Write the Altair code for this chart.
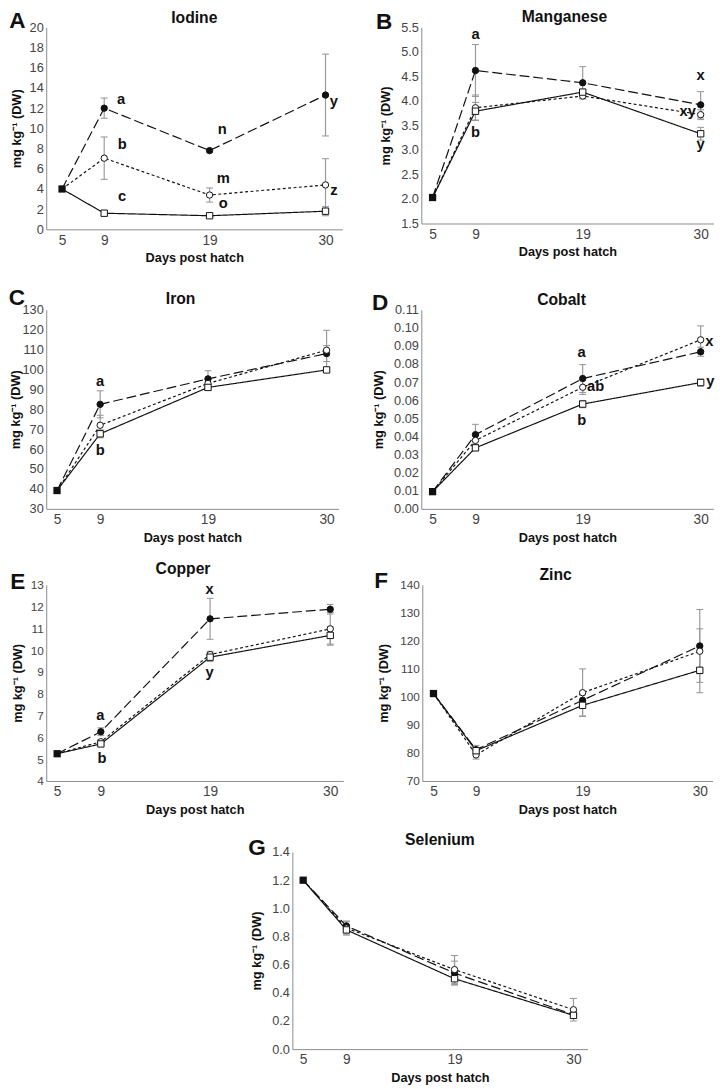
import altair as alt
import pandas as pd

SERIES = ["Diet 1", "Diet 2", "Diet 3"]
DAYS = [9, 19, 30]
X_TICKS = [5, 9, 19, 30]
Y_TITLE = "mg kg⁻¹ (DW)"
X_TITLE = "Days post hatch"

# ---- A: Iodine
IODINE_START = 4.0
IODINE_S1 = [12.0, 7.8, 13.3]
IODINE_S1_ERR = [1.0, 0.15, 4.05]
IODINE_S2 = [7.05, 3.4, 4.4]
IODINE_S2_ERR = [2.1, 0.7, 2.6]
IODINE_S3 = [1.6, 1.35, 1.8]
IODINE_S3_ERR = [0.2, 0.15, 0.45]
IODINE_TICKS = [0, 2, 4, 6, 8, 10, 12, 14, 16, 18, 20]
IODINE_LBL = ["a", "b", "c", "n", "m", "o", "y", "z"]
IODINE_LBL_DAY = [10.6, 10.7, 10.7, 20.2, 20.3, 20.3, 30.8, 30.8]
IODINE_LBL_VAL = [12.9, 8.4, 3.3, 9.9, 5.05, 2.6, 12.7, 3.9]

# ---- B: Manganese
MN_START = 2.03
MN_S1 = [4.62, 4.37, 3.92]
MN_S1_ERR = [0.53, 0.33, 0.27]
MN_S2 = [3.86, 4.10, 3.72]
MN_S2_ERR = [0.26, 0.05, 0.10]
MN_S3 = [3.79, 4.18, 3.33]
MN_S3_ERR = [0.18, 0.05, 0.13]
MN_TICKS = [1.5, 2.0, 2.5, 3.0, 3.5, 4.0, 4.5, 5.0, 5.5]
MN_LBL = ["a", "b", "x", "xy", "y"]
MN_LBL_DAY = [9.0, 9.0, 30.0, 28.8, 30.0]
MN_LBL_VAL = [5.37, 3.37, 4.53, 3.79, 3.11]

# ---- C: Iron
FE_START = 39.2
FE_S1 = [82.5, 95.3, 108.0]
FE_S1_ERR = [6.8, 4.1, 4.0]
FE_S2 = [72.0, 93.0, 109.7]
FE_S2_ERR = [5.0, 2.0, 10.0]
FE_S3 = [67.7, 91.0, 99.8]
FE_S3_ERR = [2.0, 1.5, 1.0]
FE_TICKS = [30, 40, 50, 60, 70, 80, 90, 100, 110, 120, 130]
FE_LBL = ["a", "b"]
FE_LBL_DAY = [9.0, 9.0]
FE_LBL_VAL = [94.4, 59.4]

# ---- D: Cobalt
CO_START = 0.0095
CO_S1 = [0.041, 0.072, 0.0868]
CO_S1_ERR = [0.0057, 0.0077, 0.0025]
CO_S2 = [0.0378, 0.0672, 0.0934]
CO_S2_ERR = [0.003, 0.004, 0.0077]
CO_S3 = [0.0337, 0.0579, 0.0698]
CO_S3_ERR = [0.0015, 0.002, 0.002]
CO_TICKS = [0.00, 0.01, 0.02, 0.03, 0.04, 0.05, 0.06, 0.07, 0.08, 0.09, 0.10, 0.11]
CO_LBL = ["a", "ab", "b", "x", "y"]
CO_LBL_DAY = [18.9, 20.2, 18.9, 30.8, 30.9]
CO_LBL_VAL = [0.0865, 0.0677, 0.049, 0.0927, 0.0706]

# ---- E: Copper
CU_START = 5.25
CU_S1 = [6.26, 11.44, 11.88]
CU_S1_ERR = [0.18, 0.94, 0.22]
CU_S2 = [5.8, 9.8, 10.98]
CU_S2_ERR = [0.1, 0.15, 0.75]
CU_S3 = [5.7, 9.68, 10.68]
CU_S3_ERR = [0.1, 0.2, 0.4]
CU_TICKS = [4, 5, 6, 7, 8, 9, 10, 11, 12, 13]
CU_LBL = ["x", "y", "a", "b"]
CU_LBL_DAY = [18.95, 18.95, 8.95, 9.1]
CU_LBL_VAL = [12.81, 8.99, 7.04, 5.05]

# ---- F: Zinc
ZN_START = 101.2
ZN_S1 = [81.2, 98.8, 118.2]
ZN_S1_ERR = [1.5, 2.0, 13.0]
ZN_S2 = [79.3, 101.5, 116.3]
ZN_S2_ERR = [1.5, 8.5, 8.0]
ZN_S3 = [80.8, 97.0, 109.5]
ZN_S3_ERR = [1.0, 3.8, 8.0]
ZN_TICKS = [70, 80, 90, 100, 110, 120, 130, 140]
ZN_LBL = []
ZN_LBL_DAY = []
ZN_LBL_VAL = []

# ---- G: Selenium
SE_START = 1.2
SE_S1 = [0.875, 0.54, 0.245]
SE_S1_ERR = [0.03, 0.085, 0.02]
SE_S2 = [0.86, 0.565, 0.28]
SE_S2_ERR = [0.05, 0.10, 0.08]
SE_S3 = [0.847, 0.50, 0.24]
SE_S3_ERR = [0.03, 0.04, 0.02]
SE_TICKS = [0.0, 0.2, 0.4, 0.6, 0.8, 1.0, 1.2, 1.4]

INK = "#111111"
GRAY = "#9a9a9a"
AXIS_GRAY = "#8a8a8a"
FONT = "Liberation Sans"


def make_df(start, s1, e1, s2, e2, s3, e3):
    rows = []
    for name, vals, errs in zip(SERIES, [s1, s2, s3], [e1, e2, e3]):
        rows.append(dict(day=5, value=start, err=0.0, series=name))
        for d, v, e in zip(DAYS, vals, errs):
            rows.append(dict(day=d, value=v, err=e, series=name))
    df = pd.DataFrame(rows)
    df["lo"] = df["value"] - df["err"]
    df["hi"] = df["value"] + df["err"]
    return df


def panel(letter, title, df, ydom, yticks, yfmt, xdom, w, h, lbl, lbl_day,
          lbl_val, letter_xy, title_dxy, ytitle_x, ylabel_size=13):
    xscale = alt.Scale(domain=xdom, nice=False, zero=False)
    yscale = alt.Scale(domain=ydom, nice=False, zero=False)
    xaxis = alt.Axis(values=X_TICKS, title=X_TITLE, grid=False, ticks=False,
                     labelPadding=4, titlePadding=5, domainColor=AXIS_GRAY,
                     labelColor="#444444", labelFontSize=14, titleFontSize=13,
                     titleFontWeight="bold", titleColor=INK, labelFont=FONT,
                     titleFont=FONT, labelFlush=False)
    yaxis = alt.Axis(values=yticks, format=yfmt, title=Y_TITLE, grid=False,
                     ticks=False, labelPadding=3, domainColor=AXIS_GRAY,
                     labelColor="#444444", labelFontSize=ylabel_size,
                     titleFontSize=13, titleFontWeight="bold", titleColor=INK,
                     labelFont=FONT, titleFont=FONT, labelFlush=False,
                     labelOverlap=False, titleX=ytitle_x, titleY=h / 2,
                     titleAngle=270, titleAlign="center",
                     titleBaseline="middle")

    def X(f="day"):
        return alt.X(f"{f}:Q", scale=xscale, axis=xaxis)

    def Y(f):
        return alt.Y(f"{f}:Q", scale=yscale, axis=yaxis)

    base = alt.Chart(df)
    err = base.transform_filter("datum.err > 0")
    bars = err.mark_rule(color=GRAY, strokeWidth=1.2).encode(
        x=X(), y=Y("lo"), y2="hi:Q")
    cap_lo = err.mark_tick(orient="horizontal", size=7, thickness=1.1,
                           color=GRAY, opacity=1).encode(x=X(), y=Y("lo"))
    cap_hi = err.mark_tick(orient="horizontal", size=7, thickness=1.1,
                           color=GRAY, opacity=1).encode(x=X(), y=Y("hi"))
    lines = base.mark_line(color=INK, strokeWidth=1.2).encode(
        x=X(), y=Y("value"), detail="series:N", order="day:Q",
        strokeDash=alt.StrokeDash("series:N", scale=alt.Scale(
            domain=SERIES, range=[[10, 4], [3, 2.5], [1, 0]]), legend=None))
    markers = base.transform_filter("datum.day != 5").mark_point(
        filled=True, size=42, stroke=INK, strokeWidth=1, opacity=1).encode(
        x=X(), y=Y("value"),
        shape=alt.Shape("series:N", scale=alt.Scale(
            domain=SERIES, range=["circle", "circle", "square"]), legend=None),
        fill=alt.Fill("series:N", scale=alt.Scale(
            domain=SERIES, range=[INK, "white", "white"]), legend=None))
    start_sq = base.transform_filter(
        f"datum.day == 5 && datum.series == '{SERIES[0]}'").mark_square(
        size=55, color=INK, opacity=1).encode(x=X(), y=Y("value"))
    layers = [bars, cap_lo, cap_hi, lines, markers, start_sq]
    if lbl:
        ldf = pd.DataFrame({"txt": lbl, "day": lbl_day, "value": lbl_val})
        layers.append(alt.Chart(ldf).mark_text(
            fontSize=15, fontWeight="bold", color=INK, align="center",
            baseline="middle", font=FONT).encode(
            x=X(), y=Y("value"), text="txt:N"))
    # panel letter and panel title
    layers.append(alt.Chart(pd.DataFrame({"txt": [letter]})).mark_text(
        fontSize=23, fontWeight="bold", color=INK, align="center",
        baseline="middle", font=FONT).encode(
        x=alt.value(letter_xy[0]), y=alt.value(letter_xy[1]), text="txt:N"))
    layers.append(alt.Chart(pd.DataFrame({"txt": [title]})).mark_text(
        fontSize=16, fontWeight="bold", color=INK, align="center",
        baseline="middle", font=FONT).encode(
        x=alt.value(w / 2 + title_dxy[0]), y=alt.value(title_dxy[1]),
        text="txt:N"))
    return alt.layer(*layers).properties(width=w, height=h)


A = panel("A", "Iodine",
          make_df(IODINE_START, IODINE_S1, IODINE_S1_ERR, IODINE_S2,
                  IODINE_S2_ERR, IODINE_S3, IODINE_S3_ERR),
          [0, 20], IODINE_TICKS, "d", [3.5, 31.6], 302, 206,
          IODINE_LBL, IODINE_LBL_DAY, IODINE_LBL_VAL, (-29.5, -6), (0, -9), -30)
B = panel("B", "Manganese",
          make_df(MN_START, MN_S1, MN_S1_ERR, MN_S2, MN_S2_ERR, MN_S3,
                  MN_S3_ERR),
          [1.5, 5.5], MN_TICKS, ".1f", [3.95, 31.2], 298, 200,
          MN_LBL, MN_LBL_DAY, MN_LBL_VAL, (-38, -5), (-3, -10), -36)
C = panel("C", "Iron",
          make_df(FE_START, FE_S1, FE_S1_ERR, FE_S2, FE_S2_ERR, FE_S3,
                  FE_S3_ERR),
          [30, 130], FE_TICKS, "d", [4.0, 31.1], 298, 203,
          FE_LBL, FE_LBL_DAY, FE_LBL_VAL, (-30, -12), (-12, -11), -31)
D = panel("D", "Cobalt",
          make_df(CO_START, CO_S1, CO_S1_ERR, CO_S2, CO_S2_ERR, CO_S3,
                  CO_S3_ERR),
          [0, 0.11], CO_TICKS, ".2f", [3.95, 31.2], 298, 203,
          CO_LBL, CO_LBL_DAY, CO_LBL_VAL, (-42, -7), (-6, -10), -44)
E = panel("E", "Copper",
          make_df(CU_START, CU_S1, CU_S1_ERR, CU_S2, CU_S2_ERR, CU_S3,
                  CU_S3_ERR),
          [4, 13], CU_TICKS, "d", [4.0, 31.2], 303, 200,
          CU_LBL, CU_LBL_DAY, CU_LBL_VAL, (-29, -3), (-12, -16), -29,
          ylabel_size=12)
F = panel("F", "Zinc",
          make_df(ZN_START, ZN_S1, ZN_S1_ERR, ZN_S2, ZN_S2_ERR, ZN_S3,
                  ZN_S3_ERR),
          [70, 140], ZN_TICKS, "d", [3.95, 31.2], 296, 200,
          ZN_LBL, ZN_LBL_DAY, ZN_LBL_VAL, (-42, -4), (-12, -10), -39,
          ylabel_size=12)
G = panel("G", "Selenium",
          make_df(SE_START, SE_S1, SE_S1_ERR, SE_S2, SE_S2_ERR, SE_S3,
                  SE_S3_ERR),
          [0, 1.4], SE_TICKS, ".1f", [4.0, 31.3], 301, 201,
          [], [], [], (-36, -4), (0, -12), -36)

spacer = alt.Chart(pd.DataFrame({"v": [0]})).mark_point(opacity=0).encode(
    x=alt.value(0), y=alt.value(0)).properties(width=206, height=10)

row1 = alt.hconcat(A, B, spacing=33.5)
row2 = alt.hconcat(C, D, spacing=33.5)
row3 = alt.hconcat(E, F, spacing=30.5)
row4 = alt.hconcat(spacer, G, spacing=0)

chart = alt.vconcat(
    row1,
    alt.vconcat(row2, alt.vconcat(row3, row4, spacing=16.5), spacing=17.5),
    spacing=23,
).properties(
    padding={"left": 0, "top": -9, "right": 0, "bottom": 0},
    background="white",
).configure(font=FONT).configure_view(strokeWidth=0, strokeOpacity=0)

chart.save("out.html", embed_options={"renderer": "svg", "actions": False})
